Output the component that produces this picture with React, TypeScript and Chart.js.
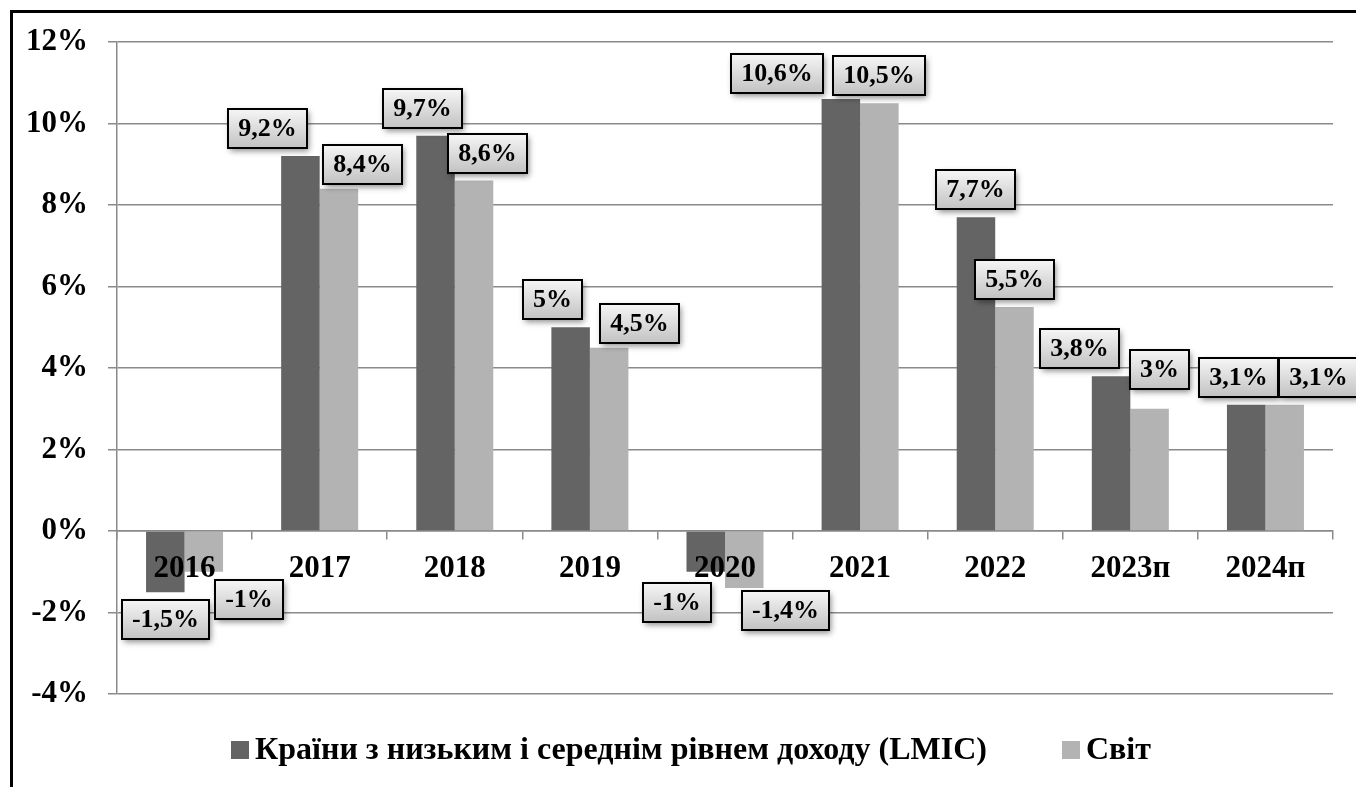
import React, { useEffect, useRef } from "react";
import { Chart, registerables } from "chart.js";

Chart.register(...registerables);

const FONT = "'Liberation Serif', 'Times New Roman', serif";

const categories = ["2016", "2017", "2018", "2019", "2020", "2021", "2022", "2023п", "2024п"];
const lmicValues = [-1.5, 9.2, 9.7, 5, -1, 10.6, 7.7, 3.8, 3.1];
const worldValues = [-1, 8.4, 8.6, 4.5, -1.4, 10.5, 5.5, 3, 3.1];
const seriesNames = ["Країни з низьким і середнім рівнем доходу (LMIC)", "Світ"];
const seriesColors = ["#646464", "#b3b3b3"];
const yMin = -4;
const yMax = 12;
const yStep = 2;

// hand-placed nudges of the value boxes (pixels, relative to the default spot at the bar end)
const lmicLabelShiftX = [0, -33, -13, -18, -29, -64, 0, -32, -8];
const lmicLabelShiftY = [0, 0, 0, 0, 3, 2, 0, 0, 0];
const worldLabelShiftX = [45, 24, 13, 30, 41, 0, 0, 10, 34];
const worldLabelShiftY = [0, 3, 0, 3, -5, 0, 0, -12, 0];

const labelShifts = [
  { dx: lmicLabelShiftX, dy: lmicLabelShiftY },
  { dx: worldLabelShiftX, dy: worldLabelShiftY },
];

const fmt = (v: number) => String(v).replace(".", ",") + "%";

const boxLabelsPlugin = {
  id: "boxLabels",
  afterDraw(chart: any) {
    const ctx = chart.ctx as CanvasRenderingContext2D;
    ctx.save();
    ctx.font = `bold 26px ${FONT}`;
    chart.data.datasets.forEach((ds: any, di: number) => {
      const meta = chart.getDatasetMeta(di);
      const sh = labelShifts[di];
      meta.data.forEach((bar: any, i: number) => {
        const v = ds.data[i] as number;
        const text = fmt(v);
        const tw = ctx.measureText(text).width;
        const w = Math.round(tw + 20);
        const h = 39;
        const cx = bar.x + sh.dx[i];
        let top = v >= 0 ? bar.y - 8 - h : bar.y + 8;
        top = Math.round(top + sh.dy[i]);
        const left = Math.round(cx - w / 2);
        ctx.save();
        ctx.shadowColor = "rgba(0,0,0,0.45)";
        ctx.shadowBlur = 6;
        ctx.shadowOffsetX = 2;
        ctx.shadowOffsetY = 3;
        const g = ctx.createLinearGradient(0, top, 0, top + h);
        g.addColorStop(0, "#f6f6f6");
        g.addColorStop(1, "#c2c2c2");
        ctx.fillStyle = g;
        ctx.fillRect(left, top, w, h);
        ctx.restore();
        ctx.lineWidth = 2;
        ctx.strokeStyle = "#000";
        ctx.strokeRect(left, top, w, h);
        ctx.fillStyle = "#000";
        ctx.textAlign = "center";
        ctx.textBaseline = "middle";
        ctx.fillText(text, left + w / 2, top + h / 2 + 1);
      });
    });
    ctx.restore();
  },
};

const legendPlugin = {
  id: "customLegend",
  afterDraw(chart: any) {
    const ctx = chart.ctx as CanvasRenderingContext2D;
    ctx.save();
    ctx.font = `bold 32px ${FONT}`;
    const box = 18;
    const gap = 6;
    const itemGap = 75;
    const items = chart.data.datasets.map((ds: any) => ({
      text: ds.label as string,
      color: ds.backgroundColor as string,
      w: box + gap + ctx.measureText(ds.label).width,
    }));
    const total = items.reduce((s: number, it: any) => s + it.w, 0) + itemGap * (items.length - 1);
    let x = chart.width / 2 - total / 2;
    const y = 737;
    items.forEach((it: any) => {
      ctx.fillStyle = it.color;
      ctx.fillRect(Math.round(x), y - 9, box, box);
      ctx.fillStyle = "#000";
      ctx.textAlign = "left";
      ctx.textBaseline = "middle";
      ctx.fillText(it.text, x + box + gap, y + 1);
      x += it.w + itemGap;
    });
    ctx.restore();
  },
};

export default function App() {
  const ref = useRef<HTMLCanvasElement | null>(null);

  useEffect(() => {
    if (!ref.current) return;
    const gridColor = "#8a8a8a";
    const chart = new Chart(ref.current, {
      type: "bar",
      data: {
        labels: categories,
        datasets: [
          {
            label: seriesNames[0],
            data: lmicValues,
            backgroundColor: seriesColors[0],
            categoryPercentage: 0.57,
            barPercentage: 1,
          },
          {
            label: seriesNames[1],
            data: worldValues,
            backgroundColor: seriesColors[1],
            categoryPercentage: 0.57,
            barPercentage: 1,
          },
        ],
      },
      options: {
        responsive: false,
        animation: false,
        devicePixelRatio: 1,
        layout: { padding: { top: 29, left: 0, right: 36, bottom: 99 } },
        plugins: {
          legend: { display: false },
          tooltip: { enabled: false },
          title: { display: false },
        },
        scales: {
          x: {
            position: { y: 0 } as any,
            grid: {
              display: true,
              offset: true,
              drawOnChartArea: false,
              drawTicks: true,
              tickLength: 8,
              color: gridColor,
              lineWidth: 1.5,
            },
            border: { display: true, color: gridColor, width: 1.5 },
            ticks: {
              z: 1,
              color: "#000",
              padding: 11,
              font: { family: FONT, size: 31, weight: "bold" },
              maxRotation: 0,
              autoSkip: false,
            },
          },
          y: {
            min: yMin,
            max: yMax,
            afterFit: (scale: any) => {
              scale.width = 104;
              scale.paddingTop = 0;
              scale.paddingBottom = 0;
            },
            grid: {
              color: gridColor,
              lineWidth: 1.5,
              drawTicks: true,
              tickLength: 9,
            },
            border: { display: true, color: gridColor, width: 1.5 },
            ticks: {
              stepSize: yStep,
              color: "#000",
              padding: 20,
              font: { family: FONT, size: 31, weight: "bold" },
              callback: (v: any) => `${v}%`,
            },
          },
        },
      },
      plugins: [boxLabelsPlugin, legendPlugin],
    });
    return () => chart.destroy();
  }, []);

  return (
    <div
      style={{
        position: "fixed",
        left: 0,
        top: 0,
        width: 1356,
        height: 787,
        overflow: "hidden",
        background: "#fff",
      }}
    >
      <div
        style={{
          position: "absolute",
          left: 10,
          top: 10,
          width: 1356,
          height: 800,
          border: "3px solid #000",
          background: "#fff",
        }}
      >
        <canvas ref={ref} width={1356} height={780} style={{ display: "block" }} />
      </div>
    </div>
  );
}
